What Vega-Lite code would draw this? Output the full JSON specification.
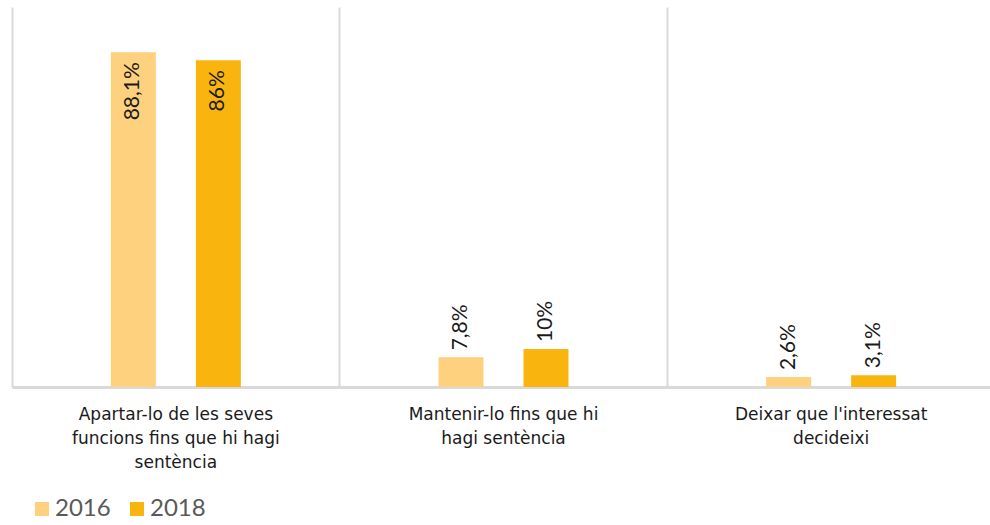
{
  "$schema": "https://vega.github.io/schema/vega-lite/v6.json",
  "autosize": {"type": "none"},
  "width": 983,
  "height": 380,
  "padding": {"left": 12, "top": 7, "right": -5, "bottom": 138},
  "background": "white",
  "data": {
    "values": [
      {"cat": "Apartar-lo de les seves funcions fins que hi hagi sentència", "year": "2016", "value": 88.1},
      {"cat": "Apartar-lo de les seves funcions fins que hi hagi sentència", "year": "2018", "value": 86},
      {"cat": "Mantenir-lo fins que hi hagi sentència", "year": "2016", "value": 7.8},
      {"cat": "Mantenir-lo fins que hi hagi sentència", "year": "2018", "value": 10},
      {"cat": "Deixar que l'interessat decideixi", "year": "2016", "value": 2.6},
      {"cat": "Deixar que l'interessat decideixi", "year": "2018", "value": 3.1}
    ]
  },
  "encoding": {
    "x": {
      "field": "cat",
      "type": "nominal",
      "sort": null,
      "scale": {"paddingInner": 0.0845, "paddingOuter": 0.0423},
      "axis": {
        "title": null,
        "labelAngle": 0,
        "ticks": false,
        "grid": true,
        "bandPosition": -0.0462,
        "gridColor": "#d9d9d9",
        "gridWidth": 2,
        "domainColor": "#d9d9d9",
        "domainWidth": 3,
        "labelFont": "DejaVu Sans",
        "labelFontSize": 17,
        "labelColor": "#1a1a1a",
        "labelPadding": 19,
        "labelBaseline": "top",
        "labelLineHeight": 24,
        "labelLimit": 400,
        "labelExpr": "datum.value == 'Apartar-lo de les seves funcions fins que hi hagi sentència' ? ['Apartar-lo de les seves', 'funcions fins que hi hagi', 'sentència'] : datum.value == 'Mantenir-lo fins que hi hagi sentència' ? ['Mantenir-lo fins que hi', 'hagi sentència'] : ['Deixar que l\\'interessat', 'decideixi']"
      }
    },
    "xOffset": {
      "field": "year",
      "type": "nominal",
      "sort": ["2016", "2018"],
      "scale": {"paddingInner": 0.471, "paddingOuter": 1}
    },
    "y": {
      "field": "value",
      "type": "quantitative",
      "scale": {"domain": [0, 100]},
      "axis": null
    }
  },
  "layer": [
    {
      "mark": {"type": "bar"},
      "encoding": {
        "color": {
          "field": "year",
          "type": "nominal",
          "scale": {"domain": ["2016", "2018"], "range": ["#FED17E", "#F9B40E"]},
          "legend": {
            "title": null,
            "orient": "none",
            "legendX": 18,
            "legendY": 490,
            "direction": "horizontal",
            "symbolType": "square",
            "symbolSize": 196,
            "symbolStrokeWidth": 0,
            "labelFont": "Lato",
            "labelFontSize": 24,
            "labelColor": "#595959",
            "labelOffset": 1,
            "columnPadding": 14
          }
        }
      }
    },
    {
      "transform": [
        {"filter": "datum.value > 50"},
        {"calculate": "replace(format(datum.value, '.1~f'), '.', ',') + '%'", "as": "label"}
      ],
      "mark": {"type": "text", "angle": 270, "align": "right", "baseline": "middle", "dx": -10, "font": "Lato", "fontSize": 21, "color": "#1a1a1a"},
      "encoding": {"text": {"field": "label"}}
    },
    {
      "transform": [
        {"filter": "datum.value <= 50"},
        {"calculate": "replace(format(datum.value, '.1~f'), '.', ',') + '%'", "as": "label"}
      ],
      "mark": {"type": "text", "angle": 270, "align": "left", "baseline": "middle", "dx": 7, "font": "Lato", "fontSize": 21, "color": "#1a1a1a"},
      "encoding": {"text": {"field": "label"}}
    }
  ],
  "config": {"view": {"stroke": null}}
}
